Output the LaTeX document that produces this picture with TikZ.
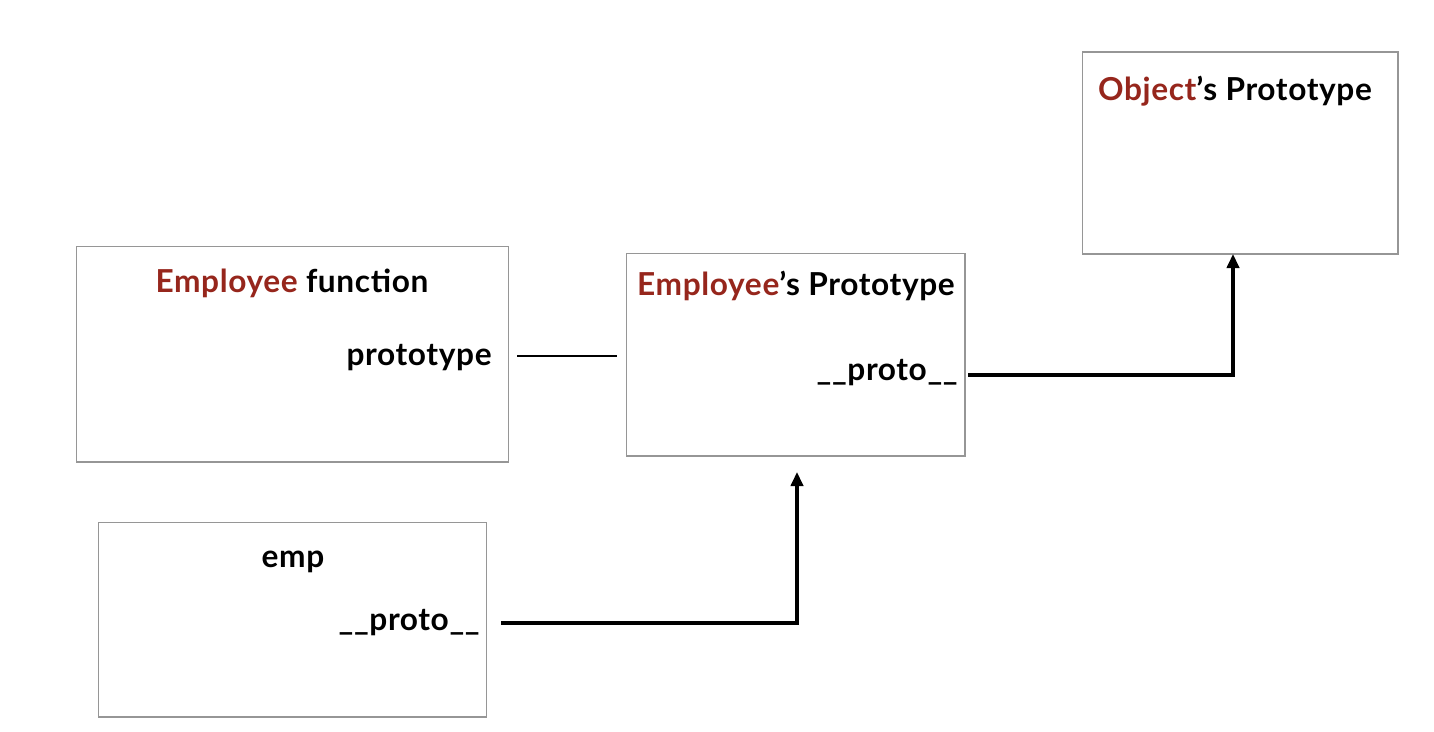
\documentclass[tikz,border=0pt]{standalone}
\usepackage{fontspec}
\setmainfont{Lato}[LetterSpace=2]
\usetikzlibrary{positioning,arrows.meta}
\definecolor{protored}{RGB}{150,38,28}
\definecolor{boxgray}{RGB}{150,150,150}
\tikzset{
  objbox/.style={draw=boxgray,line width=0.6pt,inner sep=0pt},
  lbl/.style={inner sep=0pt,anchor=base,font=\fontsize{18}{21}\selectfont\bfseries},
  rlbl/.style={lbl,anchor=base east},
  link/.style={line width=1.8pt,-{Triangle[length=8pt,width=7pt]}}
}
\newcommand{\hl}[1]{\textcolor{protored}{#1}}
\begin{document}
\begin{tikzpicture}[x=0.02cm,y=-0.02cm]
            \useasboundingbox (0,0) rectangle (1434,731);
            \node[objbox,minimum width=8.66cm,minimum height=4.32cm] (empfn) at (292.5,354) {};
            \node[objbox,minimum width=6.78cm,minimum height=4.06cm] (empproto) at (795.5,354.5) {};
            \node[objbox,minimum width=6.32cm,minimum height=4.04cm] (objproto) at (1240,153) {};
            \node[objbox,minimum width=7.78cm,minimum height=3.90cm] (emp) at (292.5,619.5) {};
            \node[lbl] (empfntitle) at (292,292) {\hl{Employee} function};
            \node[rlbl] (empfnslot) at (492,365) {prototype};
            \node[lbl] (empprototitle) at (796,295) {\hl{Employee}'s Prototype};
            \node[rlbl] (epslot) at (958,380) {\_\_proto\_\_};
            \node[lbl] (objprototitle) at (1235,100) {\hl{Object}'s Prototype};
            \node[lbl] (emptitle) at (293,567) {emp};
            \node[rlbl] (empslot) at (480,630) {\_\_proto\_\_};
            \coordinate (fnout) at (517,356);
            \coordinate (epin) at (617,356);
            \coordinate (epout) at (968,375);
            \coordinate (objin) at (1233,254);
            \coordinate (empout) at (501,623);
            \coordinate (epbelow) at (797,472);
            \draw[line width=0.8pt] (fnout)--(epin);
            \draw[link] (epout) -| (objin);
            \draw[link] (empout) -| (epbelow);
        \end{tikzpicture}
\end{document}
